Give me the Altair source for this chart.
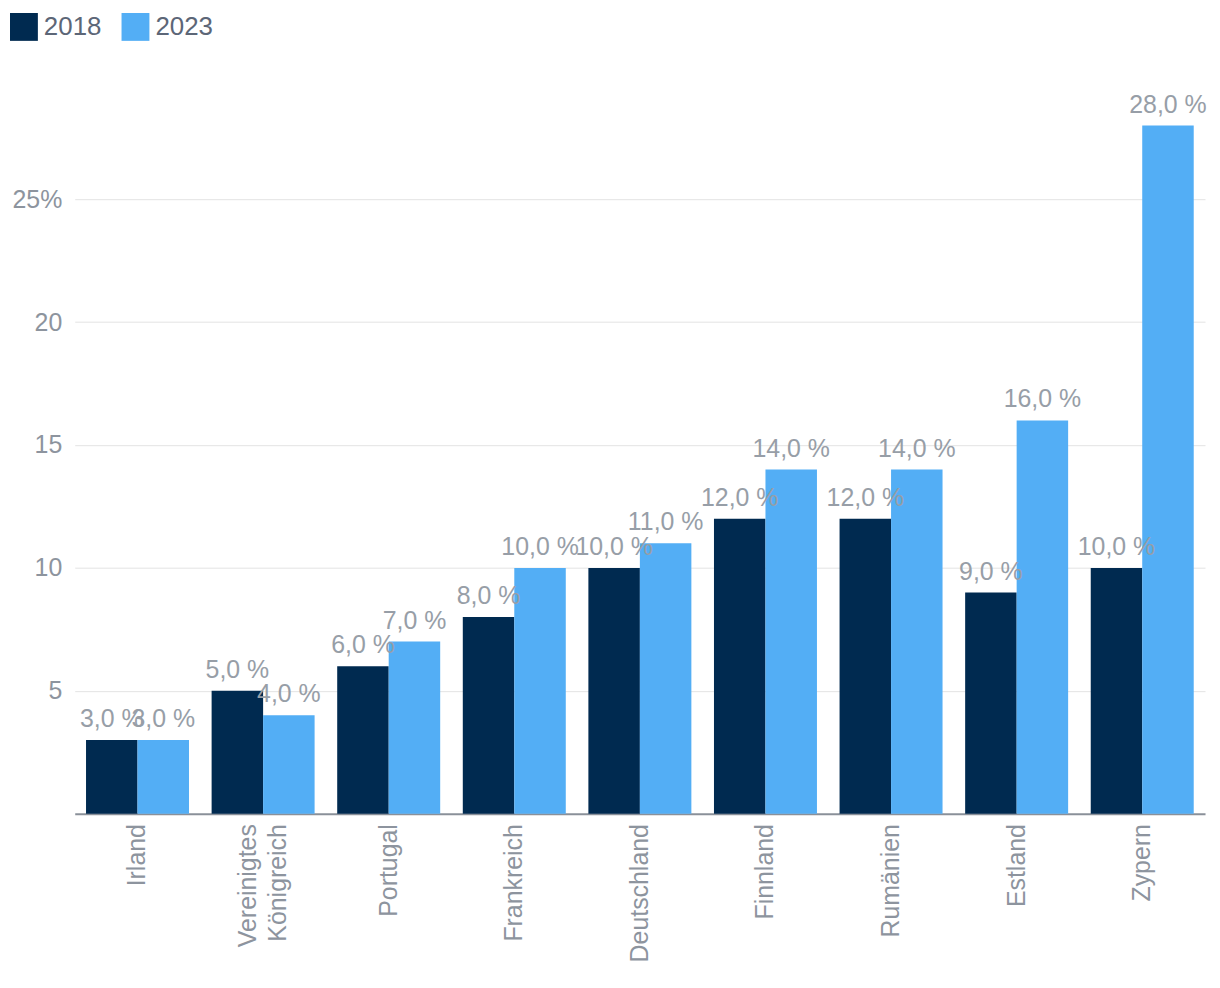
import altair as alt
import pandas as pd

countries = ["Irland", "Vereinigtes Königreich", "Portugal", "Frankreich", "Deutschland",
             "Finnland", "Rumänien", "Estland", "Zypern"]
values_2018 = [3, 5, 6, 8, 10, 12, 12, 9, 10]
values_2023 = [3, 4, 7, 10, 11, 14, 14, 16, 28]
years = ["2018", "2023"]
y_ticks = [5, 10, 15, 20, 25]

rows = []
for c, a, b in zip(countries, values_2018, values_2023):
    rows.append({"country": c, "year": years[0], "value": a})
    rows.append({"country": c, "year": years[1], "value": b})
df = pd.DataFrame(rows)

FONT = "Liberation Sans"
GRAY = "#8d949e"

x = alt.X("country:N", sort=countries, title=None,
          scale=alt.Scale(paddingInner=0.18, paddingOuter=0.09),
          axis=alt.Axis(labelAngle=-90, labelExpr="split(datum.label, ' ')",
                        labelFontSize=25, labelColor=GRAY, labelFont=FONT,
                        labelPadding=10, ticks=False, domainColor="#8a9099",
                        domainWidth=2, labelLineHeight=30,
                        labelOffset=alt.condition("datum.value == 'Vereinigtes Königreich'",
                                                  alt.value(-15), alt.value(0))))
y = alt.Y("value:Q", title=None,
          scale=alt.Scale(domain=[0, 28], nice=False),
          axis=alt.Axis(values=y_ticks, labelExpr="datum.value == 25 ? '25%' : datum.label",
                        labelFontSize=25, labelColor=GRAY, labelFont=FONT,
                        labelPadding=13, ticks=False, domain=False,
                        gridColor="#e3e3e3", gridWidth=1))

color = alt.Color("year:N", scale=alt.Scale(domain=years, range=["#002A50", "#53AEF5"]),
                  legend=alt.Legend(title=None, orient="none", legendX=-65, legendY=-113,
                                    direction="horizontal", symbolType="square",
                                    symbolSize=784, symbolStrokeWidth=0,
                                    labelFontSize=26, labelColor="#5c6677", labelFont=FONT,
                                    columnPadding=20, labelOffset=6))

base = alt.Chart(df).encode(x=x, xOffset=alt.XOffset("year:N", sort=years))

bars = base.mark_bar(opacity=1).encode(y=y, color=color)
labels = base.mark_text(baseline="alphabetic", dy=-13, fontSize=25, font=FONT, color="#979ea7").encode(
    y=alt.Y("value:Q"),
    text=alt.Text("lbl:N"),
).transform_calculate(lbl="replace(format(datum.value, '.1f'), '.', ',') + ' %'")

chart = (bars + labels).properties(
    width=1135, height=691,
    padding={"top": 3, "left": 2, "right": 5, "bottom": 5},
).configure_view(stroke=None)

chart.save("out.html", embed_options={"renderer": "svg", "actions": False})
